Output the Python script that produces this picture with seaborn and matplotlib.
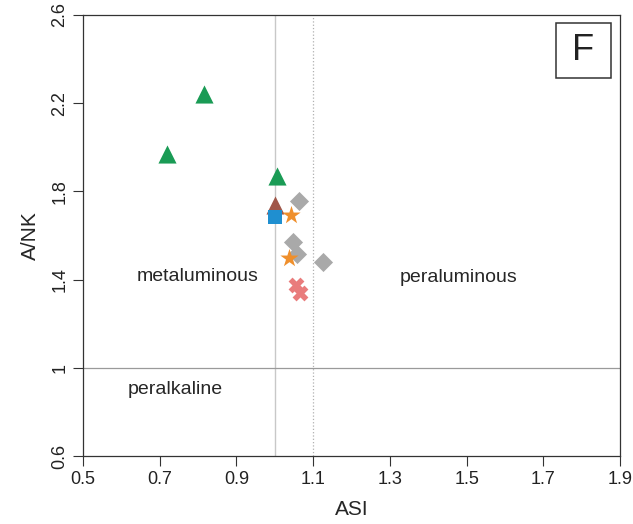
import matplotlib
matplotlib.use("Agg")
import matplotlib.pyplot as plt
from matplotlib.patches import Rectangle
import seaborn as sns
import pandas as pd

sns.set_style("ticks")
plt.rcParams['font.family'] = ['Liberation Sans', 'DejaVu Sans']

groups = ["g1", "g1", "g1", "g2", "g3", "g4", "g4", "g5", "g5", "g5", "g5", "g6", "g6"]
asi = [0.72, 0.815, 1.005, 1.0, 1.0, 1.042, 1.038, 1.063, 1.047, 1.057, 1.126, 1.055, 1.067]
anK = [1.97, 2.24, 1.87, 1.74, 1.683, 1.695, 1.50, 1.755, 1.57, 1.515, 1.48, 1.375, 1.34]

xticks = [0.5, 0.7, 0.9, 1.1, 1.3, 1.5, 1.7, 1.9]
yticks = [0.6, 1.0, 1.4, 1.8, 2.2, 2.6]
ytick_labels = ["0.6", "1", "1.4", "1.8", "2.2", "2.6"]

df = pd.DataFrame({"group": groups, "ASI": asi, "ANK": anK})

palette = {"g1": "#1a9b55", "g2": "#a0574a", "g3": "#1f8fd0", "g4": "#ef8f2c",
           "g5": "#a9a9a9", "g6": "#e97c7c"}
markers = {"g1": "^", "g2": "^", "g3": "s", "g4": "*", "g5": "D", "g6": "X"}
sizes = {"g1": 170, "g2": 170, "g3": 95, "g4": 190, "g5": 95, "g6": 130}
order = ["g1", "g2", "g3", "g5", "g4", "g6"]

fig = plt.figure(figsize=(6.33, 5.24), dpi=100)
ax = fig.add_axes([0.131, 0.1298, 0.8485, 0.8416])

ax.axvline(1.0, color="#c8c8c8", lw=1.0, zorder=1)
ax.axvline(1.1, color="#b0b0b0", lw=0.9, ls=":", zorder=1)
ax.axhline(1.0, color="#9a9a9a", lw=0.9, zorder=1)

for i, g in enumerate(order):
    sub = df[df.group == g]
    sns.scatterplot(data=sub, x="ASI", y="ANK", ax=ax, color=palette[g],
                    marker=markers[g], s=sizes[g], linewidth=0, zorder=3 + i,
                    legend=False)

ax.set_xlim(0.5, 1.9)
ax.set_ylim(0.6, 2.6)
ax.set_xticks(xticks)
ax.set_xticklabels([f"{v:.1f}" for v in xticks])
ax.set_yticks(yticks)
ax.set_yticklabels(ytick_labels, rotation=90, va="center")
ax.tick_params(axis="both", labelsize=13, direction="out", length=7, color="#333333",
               colors="#222222")
for sp in ax.spines.values():
    sp.set_color("#333333")
    sp.set_linewidth(0.9)

ax.set_xlabel("ASI", fontsize=15, labelpad=9)
ax.set_ylabel("A/NK", fontsize=15, labelpad=8)

ax.text(0.80, 1.415, "metaluminous", fontsize=14, ha="center", va="center")
ax.text(1.478, 1.41, "peraluminous", fontsize=14, ha="center", va="center")
ax.text(0.74, 0.9, "peralkaline", fontsize=14, ha="center", va="center")
ax.add_patch(Rectangle((0.881, 0.857), 0.102, 0.125, transform=ax.transAxes,
                       fc="white", ec="#333333", lw=1.1, zorder=6))
ax.text(0.932, 0.9195, "F", transform=ax.transAxes, fontsize=26, ha="center",
        va="center", color="#222222", zorder=7)

fig.savefig("out.png", dpi=100)
